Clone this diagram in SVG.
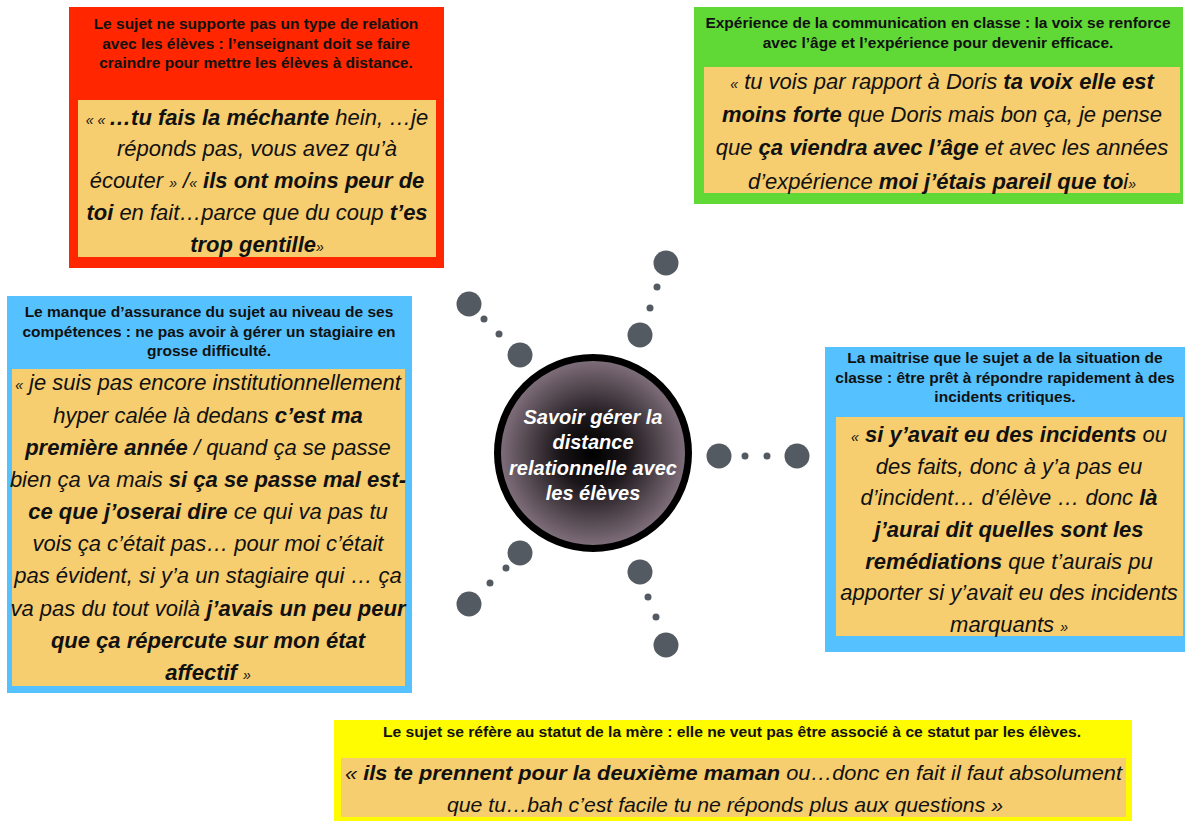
<svg xmlns="http://www.w3.org/2000/svg" width="1188" height="821" viewBox="0 0 1188 821">
<defs>
<radialGradient id="core" cx="50%" cy="50%" r="50%">
<stop offset="0" stop-color="#000000"/>
<stop offset="0.35" stop-color="#1a1518"/>
<stop offset="1" stop-color="#83727f"/>
</radialGradient>
<style>
.t{font-family:"Liberation Sans",Arial,sans-serif;font-weight:bold;font-size:15.5px;fill:#111;text-anchor:middle}
.q{font-family:"Liberation Sans",Arial,sans-serif;font-style:italic;font-size:22px;fill:#111;text-anchor:middle}
.b{font-weight:bold}
.qm{font-size:14px}
.tan{fill:#f6cd6f}
.dot{fill:#545a61}
.hub{font-family:"Liberation Sans",Arial,sans-serif;font-style:italic;font-weight:bold;font-size:20px;fill:#ffffff;text-anchor:middle}
</style>
</defs>
<rect width="1188" height="821" fill="#ffffff"/>

<g id="connectors">
<circle class="dot" cx="469" cy="304" r="12.5"/><circle class="dot" cx="484" cy="319" r="3.5"/><circle class="dot" cx="499" cy="334" r="3.5"/><circle class="dot" cx="520" cy="355" r="12.5"/>
<circle class="dot" cx="666" cy="263" r="12.5"/><circle class="dot" cx="657" cy="287" r="3.5"/><circle class="dot" cx="650" cy="308" r="3.5"/><circle class="dot" cx="640" cy="335" r="12.5"/>
<circle class="dot" cx="719" cy="456" r="12.5"/><circle class="dot" cx="745" cy="456" r="3.5"/><circle class="dot" cx="767" cy="456" r="3.5"/><circle class="dot" cx="797" cy="456" r="12.5"/>
<circle class="dot" cx="520" cy="553" r="12.5"/><circle class="dot" cx="506" cy="568" r="3.5"/><circle class="dot" cx="490" cy="583" r="3.5"/><circle class="dot" cx="469" cy="604" r="12.5"/>
<circle class="dot" cx="640" cy="572" r="12.5"/><circle class="dot" cx="648" cy="597" r="3.5"/><circle class="dot" cx="656" cy="617" r="3.5"/><circle class="dot" cx="666" cy="645" r="12.5"/>
</g>

<g id="hub">
<circle cx="593" cy="453" r="95.5" fill="url(#core)" stroke="#000" stroke-width="7"/>
<text class="hub" x="593" y="424">Savoir gérer la</text>
<text class="hub" x="593" y="449">distance</text>
<text class="hub" x="593" y="475">relationnelle avec</text>
<text class="hub" x="593" y="500">les élèves</text>
</g>

<g id="node-red">
<rect x="69" y="7" width="375" height="261" fill="#ff2600"/>
<rect class="tan" x="78" y="100" width="358" height="157"/>
<text class="t" x="256" y="29">Le sujet ne supporte pas un type de relation</text>
<text class="t" x="256" y="48.5">avec les élèves : l’enseignant doit se faire</text>
<text class="t" x="256" y="68">craindre pour mettre les élèves à distance.</text>
<text class="q" x="257" y="125"><tspan class="qm">« « </tspan><tspan class="b">…tu fais la méchante</tspan> hein, …je</text>
<text class="q" x="257" y="156">réponds pas, vous avez qu’à</text>
<text class="q" x="257" y="188">écouter <tspan class="qm">»</tspan> /<tspan class="qm">«</tspan> <tspan class="b">ils ont moins peur de</tspan></text>
<text class="q" x="257" y="220"><tspan class="b">toi</tspan> en fait…parce que du coup <tspan class="b">t’es</tspan></text>
<text class="q" x="257" y="252"><tspan class="b">trop gentille</tspan><tspan class="qm">»</tspan></text>
</g>

<g id="node-green">
<rect x="694" y="7" width="489" height="197" fill="#60d836"/>
<rect class="tan" x="704" y="67" width="476" height="126"/>
<text class="t" x="938" y="28">Expérience de la communication en classe : la voix se renforce</text>
<text class="t" x="938" y="47.5">avec l’âge et l’expérience pour devenir efficace.</text>
<text class="q" x="942" y="89"><tspan class="qm">«</tspan> tu vois par rapport à Doris <tspan class="b">ta voix elle est</tspan></text>
<text class="q" x="942" y="122"><tspan class="b">moins forte</tspan> que Doris mais bon ça, je pense</text>
<text class="q" x="942" y="155">que <tspan class="b">ça viendra avec l’âge</tspan> et avec les années</text>
<text class="q" x="942" y="189">d’expérience <tspan class="b">moi j’étais pareil que to</tspan>i<tspan class="qm">»</tspan></text>
</g>

<g id="node-blue-left">
<rect x="7" y="296" width="405" height="397" fill="#56c1ff"/>
<rect class="tan" x="12" y="369" width="393" height="317"/>
<text class="t" x="209" y="317">Le manque d’assurance du sujet au niveau de ses</text>
<text class="t" x="209" y="337">compétences : ne pas avoir à gérer un stagiaire en</text>
<text class="t" x="209" y="356">grosse difficulté.</text>
<text class="q" x="208" y="390"><tspan class="qm">«</tspan> je suis pas encore institutionnellement</text>
<text class="q" x="208" y="423">hyper calée là dedans <tspan class="b">c’est ma</tspan></text>
<text class="q" x="208" y="455"><tspan class="b">première année</tspan> /  quand ça se passe</text>
<text class="q" x="208" y="487">bien ça va mais <tspan class="b">si ça se passe mal est-</tspan></text>
<text class="q" x="208" y="519"><tspan class="b">ce que j’oserai dire</tspan> ce qui va pas tu</text>
<text class="q" x="208" y="551">vois ça c’était pas… pour moi c’était</text>
<text class="q" x="208" y="583">pas évident, si y’a un stagiaire qui … ça</text>
<text class="q" x="208" y="616">va pas du tout voilà <tspan class="b">j’avais un peu peur</tspan></text>
<text class="q" x="208" y="648"><tspan class="b">que ça répercute sur mon état</tspan></text>
<text class="q" x="208" y="680"><tspan class="b">affectif</tspan> <tspan class="qm">»</tspan></text>
</g>

<g id="node-blue-right">
<rect x="825" y="347" width="360" height="305" fill="#56c1ff"/>
<rect class="tan" x="836" y="417" width="347" height="219"/>
<text class="t" x="1005" y="363">La maitrise que le sujet a de la situation de</text>
<text class="t" x="1005" y="383">classe : être prêt à répondre rapidement à  des</text>
<text class="t" x="1005" y="402">incidents critiques.</text>
<text class="q" x="1009" y="442"><tspan class="qm">«</tspan> <tspan class="b">si y’avait eu des incidents</tspan> ou</text>
<text class="q" x="1009" y="474">des faits, donc à y’a pas eu</text>
<text class="q" x="1009" y="505">d’incident… d’élève … donc <tspan class="b">là</tspan></text>
<text class="q" x="1009" y="537"><tspan class="b">j’aurai dit quelles sont les</tspan></text>
<text class="q" x="1009" y="569"><tspan class="b">remédiations</tspan> que t’aurais pu</text>
<text class="q" x="1009" y="600">apporter si y’avait eu des incidents</text>
<text class="q" x="1009" y="632">marquants  <tspan class="qm">»</tspan></text>
</g>

<g id="node-yellow">
<rect x="334" y="720" width="798" height="101" fill="#fffb00"/>
<rect class="tan" x="341" y="758" width="785" height="59"/>
<text class="t" x="732" y="737" style="font-size:14px" textLength="698" lengthAdjust="spacingAndGlyphs">Le sujet se réfère au statut de la mère : elle ne veut pas être associé à ce statut par les élèves.</text>
<text class="q" x="733.5" y="780" style="font-size:21px" textLength="777" lengthAdjust="spacingAndGlyphs">« <tspan class="b">ils te prennent pour la deuxième maman</tspan> ou…donc en fait il faut absolument</text>
<text class="q" x="725" y="812" style="font-size:21px" textLength="556" lengthAdjust="spacingAndGlyphs">que tu…bah c’est facile tu ne réponds plus aux questions »</text>
</g>
</svg>
